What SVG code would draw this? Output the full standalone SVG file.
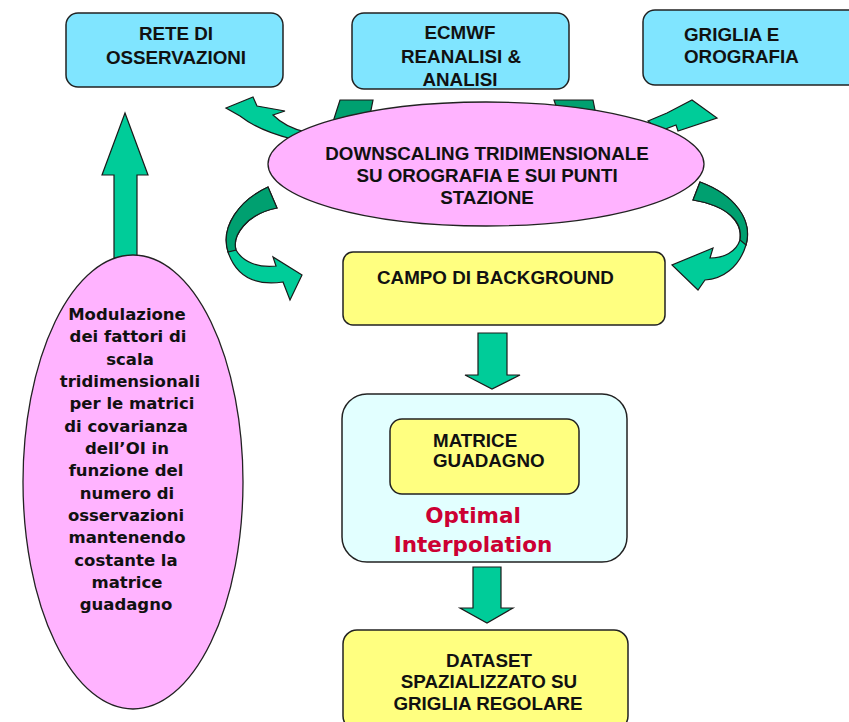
<svg xmlns="http://www.w3.org/2000/svg" width="849" height="722" viewBox="0 0 849 722">
<style>
.box{stroke:#222;stroke-width:1.5}
.cyan{fill:#80E5FF}
.yel{fill:#FFFF80}
.pink{fill:#FFB3FF;stroke:#222;stroke-width:1.3}
.cap{font-family:"Liberation Sans",Arial,sans-serif;font-weight:bold;font-size:18.8px;fill:#111}
.mid{text-anchor:middle}
.low{font-family:"DejaVu Sans",Verdana,sans-serif;font-weight:bold;font-size:16.5px;fill:#111;text-anchor:middle}
.red{font-family:"DejaVu Sans",Verdana,sans-serif;font-weight:bold;font-size:21.5px;fill:#CC0033;text-anchor:middle}
.arr{fill:#00CC99;stroke:#1a1a1a;stroke-width:1.2;stroke-linejoin:miter}
.dk{fill:#00A070;stroke:#1a1a1a;stroke-width:1.2}
</style>
<rect width="849" height="722" fill="#fff"/>

<g id="connectors">
  <polygon class="arr" points="125,113 148,175 137,175 137,258 114,258 114,175 102,175"/>
  <polygon class="dk" points="340,100 373,100 370,115 332,125"/>
  <polygon class="dk" points="554,100 593,100 596,115 558,112"/>
  <path class="arr" d="M226,108 L253,97 L257,106 L285,111 L273,115 C282,124 292,129 306,132 L292,139 C272,134 254,127 240,116 Z"/>
  <path class="arr" d="M648,121 L667,113 L692,100 L717,118 L678,131 L676,125 L660,131 Z"/>
  <path class="arr" d="M268,187 C240,200 220,226 228,252 C236,276 255,286 283,282 L290,300 L302,275 L273,257 L276,266 C258,268 243,262 236,250 C232,236 246,214 277,208 Z"/>
  <path class="dk" d="M268,187 C240,200 220,226 228,252 L236,250 C232,236 246,214 277,208 Z"/>
  <path class="arr" d="M700,182 C735,195 753,220 746,245 C739,268 722,279 705,280 L698,290 L672,265 L713,248 L710,258 C724,258 736,252 740,240 C743,222 728,206 693,200 Z"/>
  <path class="dk" d="M700,182 C735,195 753,220 746,245 L740,240 C743,222 728,206 693,200 Z"/>
  <polygon class="arr" points="478,333 507,333 507,375 520,375 492,389 465,375 478,375"/>
  <polygon class="arr" points="473,567 501,567 501,608 513,608 487,623 460,608 473,608"/>
</g>

<g id="rete">
  <rect class="box cyan" x="66" y="13" width="217" height="74" rx="12"/>
  <text class="cap mid" x="176" y="40">RETE DI</text>
  <text class="cap mid" x="176" y="64">OSSERVAZIONI</text>
</g>
<g id="ecmwf">
  <rect class="box cyan" x="352" y="13" width="217" height="76" rx="12"/>
  <text class="cap mid" x="460" y="39">ECMWF</text>
  <text class="cap mid" x="461" y="63">REANALISI &amp;</text>
  <text class="cap mid" x="460" y="86">ANALISI</text>
</g>
<g id="griglia">
  <rect class="box cyan" x="643" y="10" width="230" height="75" rx="12"/>
  <text class="cap" x="684" y="41">GRIGLIA E</text>
  <text class="cap" x="684" y="63">OROGRAFIA</text>
</g>

<g id="downscaling">
  <ellipse class="pink" cx="486" cy="164" rx="218" ry="62"/>
  <text class="cap mid" x="487" y="160">DOWNSCALING TRIDIMENSIONALE</text>
  <text class="cap mid" x="487" y="182">SU OROGRAFIA E SUI PUNTI</text>
  <text class="cap mid" x="487" y="204">STAZIONE</text>
</g>

<g id="modulazione">
  <ellipse class="pink" cx="133" cy="482" rx="110" ry="227"/>
  <text class="low" x="127" y="320">Modulazione</text>
  <text class="low" x="128" y="342">dei fattori di</text>
  <text class="low" x="130" y="365">scala</text>
  <text class="low" x="130" y="387">tridimensionali</text>
  <text class="low" x="132" y="409">per le matrici</text>
  <text class="low" x="126" y="432">di covarianza</text>
  <text class="low" x="127" y="454">dell’OI in</text>
  <text class="low" x="126" y="476">funzione del</text>
  <text class="low" x="127" y="499">numero di</text>
  <text class="low" x="126" y="521">osservazioni</text>
  <text class="low" x="127" y="543">mantenendo</text>
  <text class="low" x="126" y="566">costante la</text>
  <text class="low" x="127" y="588">matrice</text>
  <text class="low" x="126" y="610">guadagno</text>
</g>

<g id="campo">
  <rect class="box yel" x="343" y="252" width="322" height="73" rx="10"/>
  <text class="cap" x="377" y="284">CAMPO DI BACKGROUND</text>
</g>

<g id="oi">
  <rect class="box" fill="#E2FFFF" x="342" y="394" width="285" height="168" rx="25"/>
  <text class="red" x="473" y="523">Optimal</text>
  <text class="red" x="473" y="552">Interpolation</text>
</g>
<g id="matrice">
  <rect class="box yel" x="390" y="419" width="189" height="75" rx="12"/>
  <text class="cap" x="433" y="447">MATRICE</text>
  <text class="cap" x="433" y="467">GUADAGNO</text>
</g>

<g id="dataset">
  <rect class="box yel" x="343" y="630" width="285" height="100" rx="14"/>
  <text class="cap mid" x="489" y="667">DATASET</text>
  <text class="cap mid" x="489" y="688">SPAZIALIZZATO SU</text>
  <text class="cap mid" x="488" y="710">GRIGLIA REGOLARE</text>
</g>
</svg>
